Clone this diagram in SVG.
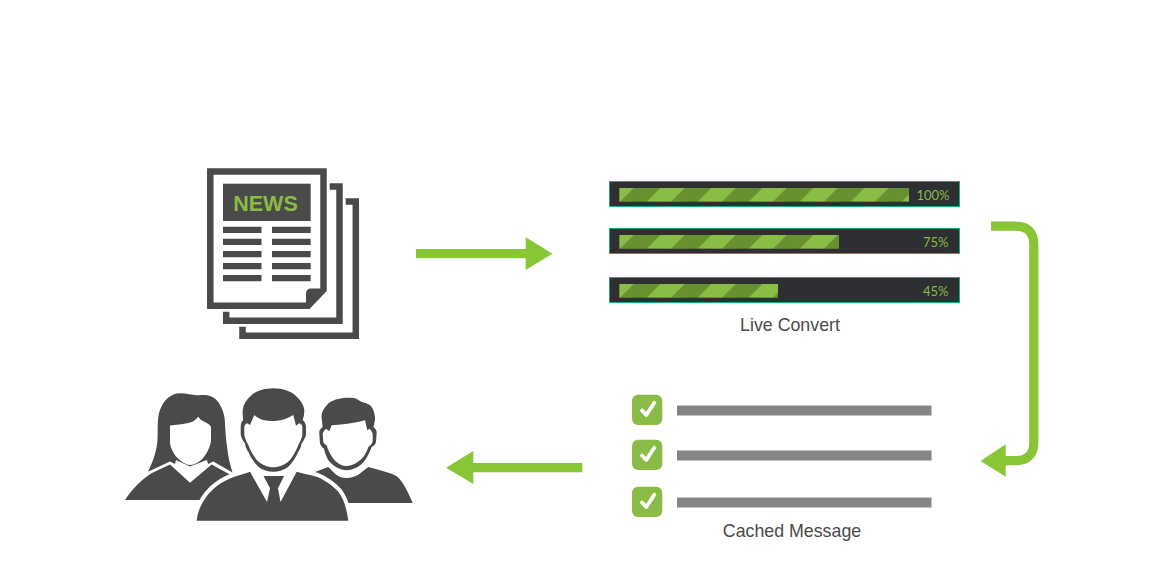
<svg xmlns="http://www.w3.org/2000/svg" width="1170" height="580" viewBox="0 0 1170 580">
<defs>
<pattern id="stripes" patternUnits="userSpaceOnUse" x="619.3" y="188" width="51" height="13.7">
<rect width="51" height="13.7" fill="#89bd45"/>
<polygon points="0.7,13.7 14.4,0 41,0 27.4,13.7" fill="#68902f"/>
</pattern>
<style>
.ink{fill:#4a4a4a}
.page{fill:none;stroke:#4a4a4a;stroke-width:6.5}
.bar{fill:#2d2f33;stroke:#1cae70;stroke-width:1}
.pct{font:13px Lato,"Liberation Sans",sans-serif;fill:#8abb47;text-anchor:end}
.cap{font:17.8px "Liberation Sans",Arial,sans-serif;fill:#4a4a4a;text-anchor:middle}
.ck{fill:#8abb47}
.tick{fill:none;stroke:#fff;stroke-width:3.8;stroke-linecap:round;stroke-linejoin:round}
.ln{fill:#858585}
.flow{fill:none;stroke:#87c735;stroke-width:9.2}
.head{fill:#87c735}
.face{fill:#fff}
.cut{fill:#4a4a4a;stroke:#fff;stroke-width:8;paint-order:stroke}
</style>
</defs>
<rect width="1170" height="580" fill="#fff"/>
<g id="news">
<path class="page" d="M329.7 186.5H339.5V320.8H226.2V311.7"/>
<path class="page" d="M345.7 201.5H355.8V335.8H242.5V326.7"/>
<path class="page" d="M308 305.800H210.300V171.500H323.500V289"/>
<path class="ink" d="M326.700 288.500V291L309.500 309H306V294Q306 288.500 311 288.500Z"/>
<rect class="ink" x="223" y="183.700" width="87.700" height="37.300"/>
<text x="265.500" y="211" font-family="'Liberation Sans',Arial,sans-serif" font-weight="700" font-size="21.500" fill="#8abb47" text-anchor="middle">NEWS</text>
<path class="ink" d="M223 226.700h38.500v6.300h-38.500zM272 226.700h38.700v6.300h-38.700zM223 238.800h38.500v6.300h-38.500zM272 238.800h38.700v6.300h-38.700zM223 251h38.500v6.300h-38.500zM272 251h38.700v6.300h-38.700zM223 263h38.500v6.300h-38.500zM272 263h38.700v6.300h-38.700zM223 275h38.500v6.300h-38.500zM272 275h38.700v6.300h-38.700z"/>
</g>
<g id="live-convert">
<rect class="bar" x="609.500" y="181.500" width="350" height="25"/>
<rect x="619.300" y="188" width="289.700" height="13.700" fill="url(#stripes)"/>
<text class="pct" x="949.500" y="200">100%</text>
<rect class="bar" x="609.500" y="228.500" width="350" height="25"/>
<g transform="translate(0 47)"><rect x="619.300" y="188" width="219.700" height="13.700" fill="url(#stripes)"/></g>
<text class="pct" x="948.500" y="247">75%</text>
<rect class="bar" x="609.500" y="277.500" width="350" height="25"/>
<g transform="translate(0 96)"><rect x="619.300" y="188" width="158.700" height="13.700" fill="url(#stripes)"/></g>
<text class="pct" x="948.500" y="296">45%</text>
<text class="cap" x="790" y="331">Live Convert</text>
</g>
<g id="cached-message">
<rect class="ck" x="632" y="394.700" width="30.300" height="30.300" rx="6"/>
<path class="tick" d="M642 410.500L646.300 415L654.300 402.800"/>
<rect class="ck" x="632" y="439.700" width="30.300" height="30.300" rx="6"/>
<path class="tick" d="M642 455.500L646.300 460L654.300 447.800"/>
<rect class="ck" x="632" y="486.700" width="30.300" height="30.300" rx="6"/>
<path class="tick" d="M642 502.500L646.300 507L654.300 494.800"/>
<rect class="ln" x="677" y="405.500" width="254.500" height="10"/>
<rect class="ln" x="677" y="450.500" width="254.500" height="10"/>
<rect class="ln" x="677" y="497.500" width="254.500" height="10"/>
<text class="cap" x="792" y="537">Cached Message</text>
</g>
<g id="people">
<g id="woman">
<path class="ink" d="M125 500C132 489 142 479 152 473L170 464.500L190 482.700L211.700 464.500L231.700 475.500L240 500Z"/>
<path class="ink" d="M148 471.700C153 462 157 450 157.500 440C158 428 157 418 160 410C164 399 172 393.300 180 393.300C186 393.300 192 395.200 196.700 395.200C200 395.200 202 395 205 395C212 395.500 217 399 220 405C224 412 225 418 225 424C225.500 432 226 440 227 446C228 456 230 465 232.500 472.500L213.300 461.500L208.300 464L206.700 460L190 466.500L176 460L175 464L170 461.500Z"/>
<path class="face" d="M170 425.500C178 424.500 188 424 193 421.500C195.500 420 197 418 198.300 416.700C200 419 202 421 205 422C208 423.500 210 425 211 427L211 441.700C209 450 205 457 200 461C196 463.500 193 465 190 465C186 465 182 462 177.500 458C173 453 170 447 170 441.700Z"/>
</g>
<g id="man-right">
<path class="ink" d="M315 472L328.300 467L335 473.700C338 476.500 342 478 346.700 478C351 478 355 476.500 358.300 474.700L368.300 467C378 470 388 472 395 475.300C402 479 408 492 412.700 503H340Z"/>
<path class="ink" d="M343.300 398C336 399 330 401 326.700 405.300C322.500 410 321 414 321.700 418.700L322.700 427C320 429 319 431 319.300 433.700L320 443.700C321 446 322.500 447.500 324 448.700C325 453 326.500 457 328.300 460.300C333 466 340 470.300 346.700 470.300C353 470.300 361 466 365 460.300C368 456 370 451 371.700 447C374 446 375.500 444 376 442L376.700 432C376.500 430 375 428 373.300 427C374.500 423 375.300 420 375 417C374 411 372.500 407 370 405.300C367 403 364 402.500 361.700 402C358 400 356 398 353.300 398C350 397.500 346 397.500 343.300 398Z"/>
<path class="face" d="M331.700 425.300C336 425 340 424.800 343.300 424.300C351 423.500 359 422 365 420.300L367.300 430.300L369.300 428.700C371 430 372 432 372.700 433.700V441.300C372 444 370 446 368.300 447C367 451 365.500 454 363.300 457C359 462 352 466 346.700 466C341 466 336.500 462.500 333.300 458.700C330 454 328 450 326.700 445.300C325 444.500 324 443.500 323.300 442L322.700 433.700C323.500 431.500 324.500 430 326 428.700L329.300 431.300Z"/>
</g>
<g id="man-center">
<path class="cut" d="M196.700 520.700C198 506 208 491 222 482.500C231 477 241 475 250 471.700L267 502L270 488.300L263.500 476H284L278 488.300L280.500 502L296.700 471.700C304 474 311 475 316.700 476.700C325 480 333 486 338.300 491.700C344 499 347 510 348.300 520.700Z"/>
<path class="ink" d="M273.300 388.300C263 388.500 256.500 391 251.700 395C246 400 243 405 242.700 410C242.500 414 242.800 417 243.300 420C241.500 421.500 240.700 424 240.700 426.700V435C241.500 438 243 441 245 443.300C245.500 447 246.500 449.500 248.300 451.700C250.500 457 254 462.500 258.300 466.700C262.500 470 268 471.700 273.300 471.700C278.500 471.700 284 470 288.300 466.700C292.500 462.500 296 457 298.300 451.700C300 449.500 301 447 301.700 443.300C303.500 441 305 438 306 435V426.700C306 424 304.500 421.500 302.700 420C303.700 417 304.300 414 304.300 410C304 405 300.500 400 295 395C290 391 283.500 388.500 273.300 388.300Z"/>
<path class="face" d="M254.300 415C257 417.500 260 419 263.300 420C267 421 271 421.300 275 421C280 420.800 284 419.500 286.700 418.300C289 417.500 291.500 416 293.300 415L296 425.700L299.300 423.300C301 424 302 425 302.300 426.700V435C302 438 300 442 298.300 445C296.500 450 293 456 290 460C286 464.500 279 467.300 273.300 467.300C267.500 467.300 261 464.500 256.700 460C253.500 456 250 450 248.300 445C246.500 442 245 438 244.300 435V426.700C244.700 425 245.700 424 247.300 423.300L250 425Z"/>
</g>
</g>
<g id="connectors">
<path class="flow" d="M416 253.700H530"/>
<polygon class="head" points="525.700,237.300 552.500,253.700 525.700,270"/>
<path class="flow" d="M991 226.200H1015.300Q1033.800 226.200 1033.800 244.700V442.200Q1033.800 460.700 1015.300 460.700H1000"/>
<polygon class="head" points="980.500,461 1005.700,444.300 1005.700,476.700"/>
<path class="flow" d="M582.300 467.700H468"/>
<polygon class="head" points="473.300,451 446,467.700 473.300,484"/>
</g>
</svg>
